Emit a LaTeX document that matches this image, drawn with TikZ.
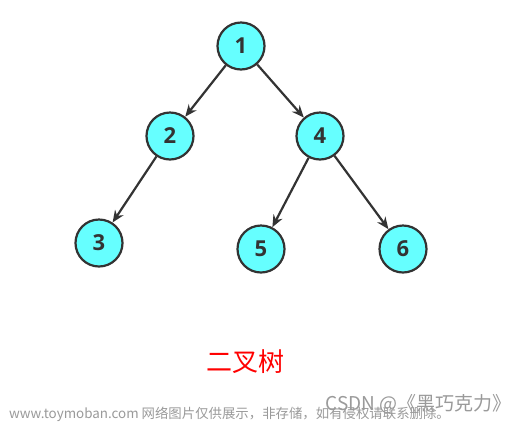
\documentclass[tikz,border=0pt]{standalone}
\usepackage{fontspec}
\setmainfont{Open Sans}
\newfontfamily\cjk{Noto Sans CJK SC}
\usetikzlibrary{arrows.meta}
\definecolor{nodefill}{HTML}{66FFFF}
\definecolor{edgecol}{HTML}{333333}
\definecolor{wmgray}{HTML}{9A9A9A}
\tikzset{
  treenode/.style={circle, draw=edgecol, line width=2.2pt, fill=nodefill, minimum size=47pt, inner sep=0pt, text=edgecol, font=\fontsize{22}{22}\selectfont\bfseries},
  treeedge/.style={draw=edgecol, line width=2.2pt, -{Stealth[length=12pt,width=10pt]}},
}
\begin{document}
\begin{tikzpicture}[x=1pt,y=-1pt]
\path[use as bounding box, fill=white] (0,0) rectangle (524,424);
\node[treenode] (n1) at (241,46) {1};
\node[treenode] (n2) at (170,136) {2};
\node[treenode] (n4) at (320,136) {4};
\node[treenode] (n3) at (99,243) {3};
\node[treenode] (n5) at (261,249) {5};
\node[treenode] (n6) at (403,249) {6};
\draw[treeedge] (n1) -- (n2);
\draw[treeedge] (n1) -- (n4);
\draw[treeedge] (n2) -- (n3);
\draw[treeedge] (n4) -- (n5);
\draw[treeedge] (n4) -- (n6);
\node[text=red, font=\cjk\fontsize{26}{26}\selectfont] (title) at (245,362) {二叉树};
\node[anchor=west, text=wmgray, font=\cjk\fontsize{13.4}{13.4}\selectfont, inner sep=0pt] (wm1) at (9,414) {www.toymoban.com 网络图片仅供展示，非存储，如有侵权请联系删除。};
\node[anchor=east, text=wmgray, font=\cjk\fontsize{19}{19}\selectfont, inner sep=0pt] (wm2) at (512,404) {CSDN @《黑巧克力》};
\end{tikzpicture}
\end{document}
